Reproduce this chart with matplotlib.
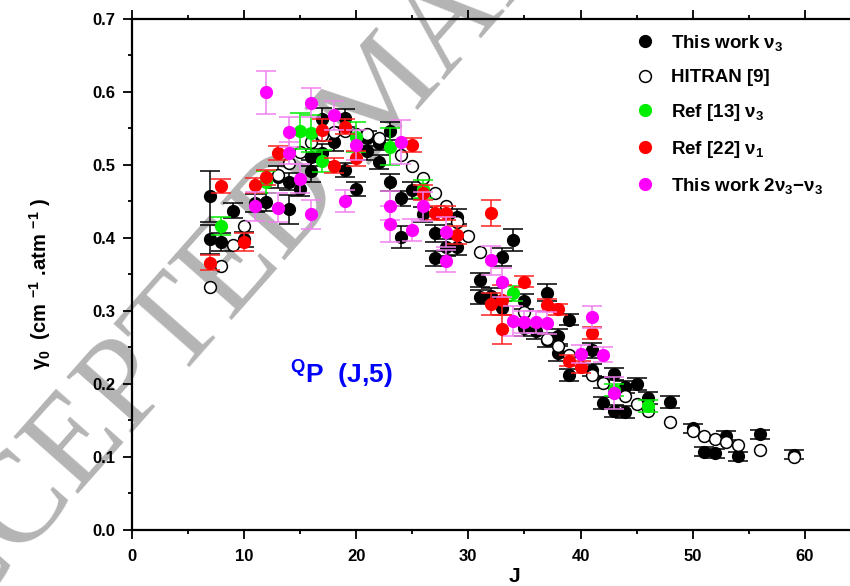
import matplotlib
matplotlib.use("Agg")
import matplotlib.pyplot as plt
from matplotlib.lines import Line2D
from matplotlib.ticker import MultipleLocator, FormatStrFormatter

plt.rcParams['font.family'] = ['Liberation Sans', 'DejaVu Sans']
plt.rcParams['font.weight'] = 'bold'
plt.rcParams['mathtext.fontset'] = 'custom'
plt.rcParams['mathtext.rm'] = 'Liberation Sans:bold'
plt.rcParams['mathtext.bf'] = 'Liberation Sans:bold'
plt.rcParams['mathtext.it'] = 'Liberation Sans:bold'
plt.rcParams['mathtext.default'] = 'bf'

# ---- data: broadening coefficients gamma0 (cm-1 atm-1) vs J ----
black_J = [7, 7, 8, 9, 10, 11, 12, 13, 14, 14, 15, 16, 16, 17, 17, 18, 19, 19, 20,
           21, 21, 22, 22, 23, 23, 24, 24, 25, 26, 27, 27, 28, 29, 29, 31, 31, 32,
           33, 33, 34, 35, 35, 36, 37, 37, 38, 38, 39, 39, 41, 41, 42, 42, 43, 43,
           44, 44, 45, 46, 48, 50, 51, 52, 53, 54, 56, 59]
black_g = [0.457, 0.398, 0.394, 0.437, 0.398, 0.448, 0.449, 0.483, 0.477, 0.439,
           0.467, 0.491, 0.510, 0.563, 0.516, 0.531, 0.564, 0.493, 0.467, 0.536,
           0.519, 0.530, 0.504, 0.546, 0.476, 0.454, 0.401, 0.465, 0.432, 0.406,
           0.372, 0.387, 0.429, 0.388, 0.342, 0.319, 0.321, 0.374, 0.304, 0.397,
           0.313, 0.276, 0.272, 0.325, 0.260, 0.265, 0.242, 0.288, 0.212, 0.246,
           0.219, 0.202, 0.174, 0.214, 0.163, 0.196, 0.162, 0.200, 0.181, 0.175,
           0.139, 0.107, 0.105, 0.129, 0.101, 0.131, 0.103]
black_err = [0.035, 0.020, 0.012, 0.010, 0.010, 0.012, 0.012, 0.015, 0.012, 0.020,
             0.010, 0.015, 0.012, 0.015, 0.012, 0.012, 0.012, 0.010, 0.010, 0.010,
             0.012, 0.010, 0.010, 0.012, 0.012, 0.010, 0.015, 0.012, 0.010, 0.012,
             0.010, 0.012, 0.010, 0.012, 0.010, 0.010, 0.010, 0.012, 0.010, 0.015,
             0.010, 0.010, 0.010, 0.012, 0.010, 0.010, 0.010, 0.008, 0.008, 0.010,
             0.008, 0.008, 0.008, 0.008, 0.008, 0.008, 0.008, 0.008, 0.008, 0.008,
             0.006, 0.006, 0.006, 0.006, 0.006, 0.006, 0.006]

hitran_J = [7, 8, 9, 10, 13, 14, 15, 16, 17, 18, 19, 20, 21, 22, 24, 25, 26, 27, 28,
            29, 30, 31, 35, 37, 38, 39, 41, 42, 44, 45, 46, 48, 50, 51, 52, 53, 54,
            56, 59]
hitran_g = [0.333, 0.362, 0.390, 0.416, 0.486, 0.503, 0.517, 0.531, 0.541, 0.545,
            0.546, 0.542, 0.542, 0.537, 0.514, 0.499, 0.482, 0.462, 0.443, 0.422,
            0.402, 0.380, 0.298, 0.262, 0.252, 0.240, 0.212, 0.201, 0.183, 0.173,
            0.163, 0.148, 0.135, 0.129, 0.125, 0.120, 0.116, 0.109, 0.100]

ref13_J = [8, 12, 15, 16, 17, 20, 23, 26, 34, 43, 46]
ref13_g = [0.416, 0.477, 0.546, 0.543, 0.505, 0.538, 0.525, 0.467, 0.324, 0.192, 0.170]
ref13_err = [0.012, 0.015, 0.025, 0.025, 0.015, 0.020, 0.025, 0.012, 0.010, 0.008, 0.008]

ref22_J = [7, 8, 10, 11, 12, 13, 17, 18, 19, 20, 25, 26, 27, 28, 29, 32, 32, 33, 33,
           35, 37, 38, 39, 40, 41]
ref22_g = [0.366, 0.471, 0.394, 0.472, 0.483, 0.516, 0.547, 0.499, 0.552, 0.509,
           0.527, 0.462, 0.434, 0.434, 0.404, 0.434, 0.309, 0.315, 0.275, 0.340,
           0.308, 0.302, 0.232, 0.223, 0.270]
ref22_err = [0.010, 0.010, 0.012, 0.010, 0.010, 0.010, 0.015, 0.010, 0.010, 0.010,
             0.010, 0.010, 0.010, 0.010, 0.012, 0.018, 0.015, 0.020, 0.020, 0.008,
             0.008, 0.008, 0.008, 0.008, 0.008]

hot_J = [11, 12, 13, 14, 14, 15, 16, 16, 18, 19, 20, 23, 23, 24, 25, 26, 28, 28, 32,
         33, 34, 35, 36, 37, 40, 41, 42, 43]
hot_g = [0.443, 0.599, 0.441, 0.545, 0.516, 0.481, 0.585, 0.432, 0.568, 0.451, 0.527,
         0.444, 0.419, 0.531, 0.411, 0.443, 0.408, 0.368, 0.369, 0.339, 0.286, 0.285,
         0.285, 0.283, 0.241, 0.292, 0.240, 0.188]
hot_err = [0.020, 0.030, 0.020, 0.020, 0.015, 0.020, 0.020, 0.020, 0.020, 0.015, 0.020,
           0.020, 0.025, 0.030, 0.015, 0.020, 0.020, 0.015, 0.020, 0.020, 0.020, 0.015,
           0.015, 0.015, 0.012, 0.015, 0.010, 0.022]

labels = ['This work \u03bd$_3$', 'HITRAN [9]', 'Ref [13] \u03bd$_3$',
          'Ref [22] \u03bd$_1$', 'This work 2\u03bd$_3$\u2212\u03bd$_3$']

W, H = 850, 586
fig = plt.figure(figsize=(W / 100, H / 100), dpi=100)
x0, x1 = 131.7, 131.7 + 68 * 11.22
y0, y1 = 530.0, 18.7
ax = fig.add_axes([x0 / W, 1 - y0 / H, (x1 - x0) / W, (y0 - y1) / H])
ax.set_facecolor('none')

# watermark behind the plot
fig.text(-0.1196, -0.1894, 'ACCEPTED MANUSCRIPT', rotation=48.5, rotation_mode='anchor',
         ha='left', va='baseline', fontsize=94, family='Liberation Serif',
         fontweight='normal', color='#b4b4b4', zorder=-1)

ms = 8.5
cap = 7
ax.errorbar(black_J, black_g, yerr=black_err, fmt='o', color='black', ms=ms,
            ecolor='black', elinewidth=1.1, capsize=cap, capthick=1.1, zorder=3)
ax.plot(hitran_J, hitran_g, 'o', mfc='white', mec='black', mew=1.1, ms=ms, zorder=4)
ax.errorbar(ref13_J, ref13_g, yerr=ref13_err, fmt='o', color='#00ee00', ms=ms,
            ecolor='#00ee00', elinewidth=1.1, capsize=cap, capthick=1.1, zorder=5)
ax.errorbar(ref22_J, ref22_g, yerr=ref22_err, fmt='o', color='#ff0000', ms=ms,
            ecolor='#ff2020', elinewidth=1.1, capsize=cap, capthick=1.1, zorder=6)
ax.errorbar(hot_J, hot_g, yerr=hot_err, fmt='o', color='#ff00ff', ms=ms,
            ecolor='#f080f0', elinewidth=1.1, capsize=cap, capthick=1.1, zorder=7)

ax.set_xlim(0, 68)
ax.set_ylim(0, 0.7)
ax.xaxis.set_major_locator(MultipleLocator(10))
ax.xaxis.set_minor_locator(MultipleLocator(5))
ax.yaxis.set_major_locator(MultipleLocator(0.1))
ax.yaxis.set_minor_locator(MultipleLocator(0.05))
ax.yaxis.set_major_formatter(FormatStrFormatter('%.1f'))
for s in ['left', 'bottom', 'top']:
    ax.spines[s].set_linewidth(1.6)
ax.spines['right'].set_visible(False)
ax.tick_params(which='major', direction='out', length=6.5, width=1.3,
               labelsize=12, pad=5)
ax.tick_params(which='minor', direction='out', length=3, width=1.3)
ax.tick_params(axis='x', which='both', top=True)
ax.tick_params(axis='x', which='major', pad=7)
for t in ax.get_xticklabels() + ax.get_yticklabels():
    t.set_fontweight('bold')

fig.text(40 / W, 1 - 284 / H, '\u03b3$_0$  (cm $^{-1}$ .atm $^{-1}$ )', rotation=90,
         ha='center', va='center', fontsize=14.5, fontweight='bold')
fig.text(514 / W, 1 - 577 / H, 'J', ha='center', va='center', fontsize=15,
         fontweight='bold')

ax.text(14.1, 0.2, '$^{Q}$P  (J,5)', color='#0000ff', fontsize=19,
        fontweight='bold', ha='left', va='baseline')

handles = [
    Line2D([], [], ls='none', marker='o', color='black', ms=ms),
    Line2D([], [], ls='none', marker='o', mfc='white', mec='black', mew=1.1, ms=ms),
    Line2D([], [], ls='none', marker='o', color='#00ee00', ms=ms),
    Line2D([], [], ls='none', marker='o', color='#ff0000', ms=ms),
    Line2D([], [], ls='none', marker='o', color='#ff00ff', ms=ms),
]
leg = fig.legend(handles, labels, loc='upper left',
                 bbox_to_anchor=(636 / W, 1 - 33 / H), frameon=False,
                 prop={'weight': 'bold', 'size': 13.5}, handlelength=1.0,
                 handletextpad=0.85, labelspacing=0.85, borderpad=0,
                 borderaxespad=0)

fig.savefig('out.png', dpi=100)
